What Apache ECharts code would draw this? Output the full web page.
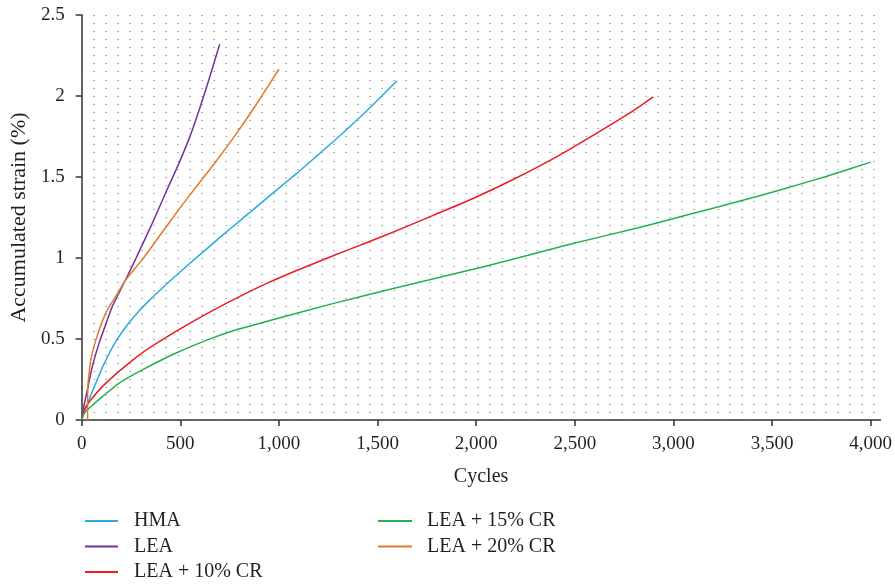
<!DOCTYPE html>
<html>
<head>
<meta charset="utf-8">
<script src="https://cdn.jsdelivr.net/npm/echarts@6/dist/echarts.min.js"></script>
<style>html,body{margin:0;padding:0;background:#fff;}#c{width:895px;height:586px;}</style>
</head>
<body>
<div id="c"></div>
<script>
const seriesNames = ['HMA', 'LEA', 'LEA + 10% CR', 'LEA + 15% CR', 'LEA + 20% CR'];
const xTicks = [0, 500, 1000, 1500, 2000, 2500, 3000, 3500, 4000];
const yTicks = [0, 0.5, 1, 1.5, 2, 2.5];

const hmaData = [[0,0],[12,0.04],[37,0.123],[71,0.226],[113,0.345],[172,0.482],[240,0.60],[290,0.672],[333,0.726],[409,0.815],[500,0.915],[578,0.998],[704,1.13],[797,1.225],[856,1.285],[974,1.405],[1093,1.525],[1194,1.632],[1312,1.758],[1447,1.91],[1599,2.094]];
const leaData = [[0,0],[7,0.06],[29,0.185],[54,0.33],[88,0.473],[130,0.617],[155,0.70],[214,0.844],[274,0.995],[358,1.214],[425,1.40],[493,1.584],[552,1.76],[603,1.94],[645,2.10],[700,2.32]];
const lea10Data = [[0,0],[12,0.06],[46,0.123],[105,0.206],[189,0.30],[307,0.415],[476,0.545],[628,0.652],[800,0.762],[941,0.845],[1084,0.92],[1278,1.015],[1450,1.097],[1616,1.178],[1785,1.265],[1987,1.369],[2190,1.486],[2393,1.615],[2595,1.759],[2798,1.91],[2898,1.994]];
const lea15Data = [[0,0],[12,0.04],[46,0.082],[105,0.144],[189,0.226],[307,0.309],[476,0.412],[628,0.49],[780,0.555],[941,0.61],[1278,0.72],[1616,0.823],[2038,0.946],[2460,1.08],[2832,1.19],[3068,1.265],[3305,1.341],[3541,1.42],[3778,1.505],[4000,1.592]];
const lea20Data = [[30,0],[31,0.2],[34,0.247],[46,0.37],[71,0.49],[122,0.66],[172,0.761],[223,0.864],[307,0.99],[400,1.145],[493,1.30],[594,1.46],[679,1.593],[780,1.76],[881,1.94],[1000,2.165]];

const colors = ['#29abe2', '#7433a0', '#ed1c24', '#23b14d', '#e2792b'];
const dataSets = [hmaData, leaData, lea10Data, lea15Data, lea20Data];

const font = '"Liberation Serif", "DejaVu Serif", serif';
const txt = '#231f20';

const chart = echarts.init(document.getElementById('c'));
const dotLine = { color: '#666', width: 1, type: [1, 11] };

chart.setOption({
  animation: false,
  grid: { left: 81, top: 15, width: 799.5, height: 405 },
  legend: [
    {
      data: seriesNames.slice(0, 3), orient: 'vertical', left: 85, top: 511, padding: 0,
      icon: 'rect', itemWidth: 33, itemHeight: 2, itemGap: 5.5,
      textStyle: { fontFamily: font, fontSize: 20, color: txt, lineHeight: 20, padding: [0, 0, 0, 11] }
    },
    {
      data: seriesNames.slice(3), orient: 'vertical', left: 378, top: 511, padding: 0,
      icon: 'rect', itemWidth: 34, itemHeight: 2, itemGap: 5.5,
      textStyle: { fontFamily: font, fontSize: 20, color: txt, lineHeight: 20, padding: [0, 0, 0, 10] }
    }
  ],
  xAxis: {
    type: 'value', min: 0, max: 4050, interval: 500,
    name: 'Cycles', nameLocation: 'middle', nameGap: 47,
    nameTextStyle: { fontFamily: font, fontSize: 20, color: txt },
    axisLine: { show: true, lineStyle: { color: '#333', width: 1.5 } },
    axisTick: { show: true, length: 6, lineStyle: { color: '#333', width: 1.5 }, customValues: xTicks },
    axisLabel: { fontFamily: font, fontSize: 19, color: txt, margin: 15, customValues: xTicks,
      formatter: v => v.toLocaleString('en-US') },
    splitLine: { show: false }
  },
  yAxis: {
    type: 'value', min: 0, max: 2.5, interval: 0.5,
    name: 'Accumulated strain (%)', nameLocation: 'middle', nameGap: 48,
    nameTextStyle: { fontFamily: font, fontSize: 22, color: txt },
    axisLine: { show: true, lineStyle: { color: '#333', width: 1.5 } },
    axisTick: { show: true, inside: false, length: 6, lineStyle: { color: '#333', width: 1.5 } },
    axisLabel: { fontFamily: font, fontSize: 19, color: txt, margin: 17 },
    splitLine: { show: true, lineStyle: dotLine },
    minorTick: { show: false, splitNumber: 10 },
    minorSplitLine: { show: true, lineStyle: dotLine }
  },
  series: seriesNames.map((n, i) => ({
    name: n, type: 'line', data: dataSets[i], smooth: 0.2, showSymbol: false,
    lineStyle: { color: colors[i], width: 1.5, join: 'round' }, itemStyle: { color: colors[i] }
  }))
});
</script>
</body>
</html>
